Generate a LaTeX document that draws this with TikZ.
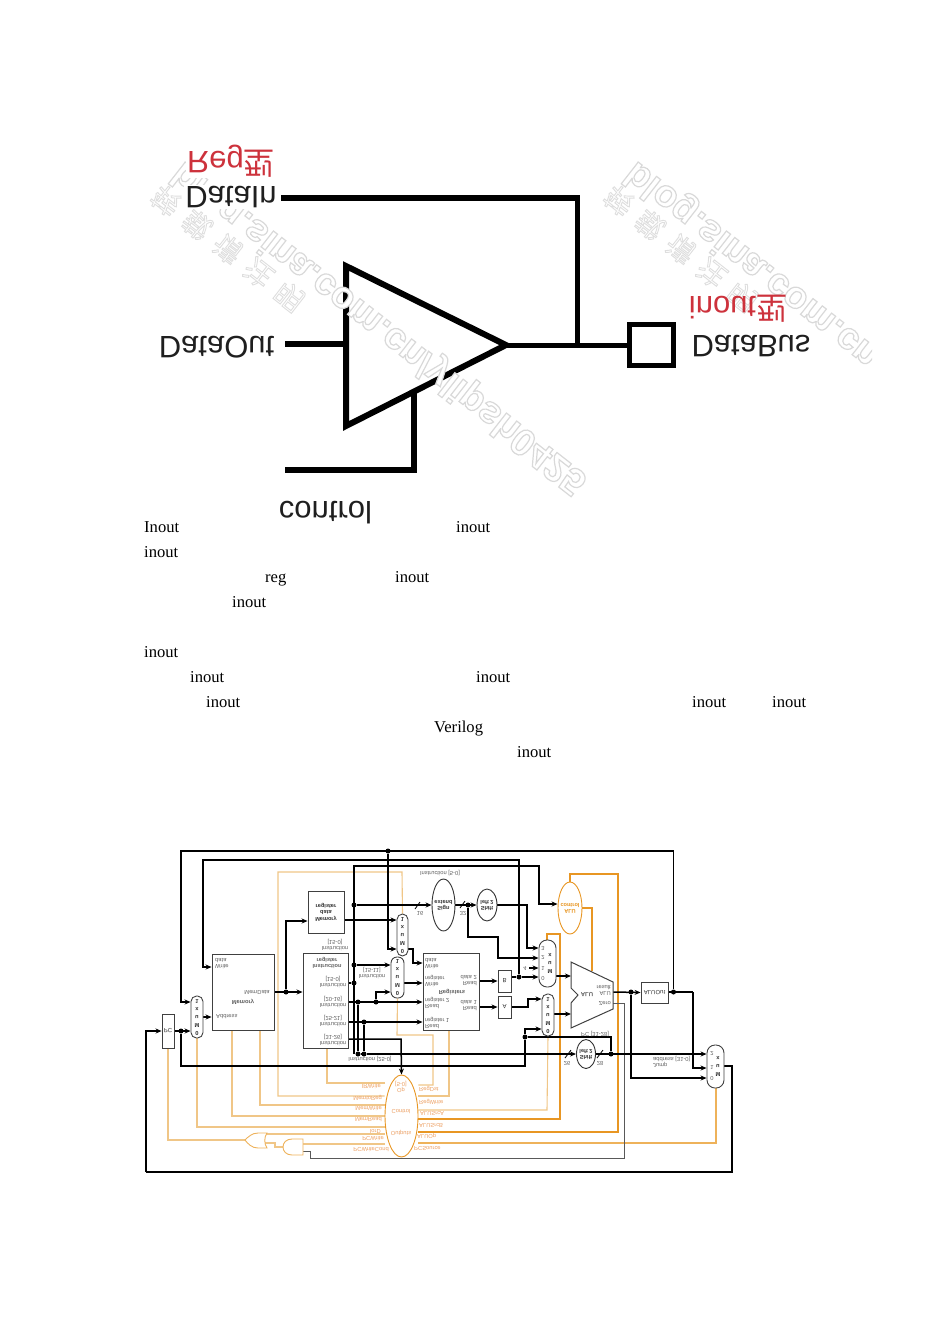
\documentclass[tikz,border=0pt]{standalone}
\usepackage{graphicx}
\usepackage{fontspec}
\setmainfont{Liberation Serif}
\setsansfont{Liberation Sans}
\newfontfamily\cjk{Noto Sans CJK SC}
\usetikzlibrary{arrows.meta,shapes.geometric,backgrounds}
\definecolor{lo}{RGB}{240,198,135}
\definecolor{mo}{RGB}{238,178,90}
\definecolor{so}{RGB}{232,150,35}
\definecolor{ot}{RGB}{236,160,100}
\definecolor{redl}{RGB}{205,50,60}
\newcommand{\fl}[1]{\scalebox{1}[-1]{#1}}
\newcommand{\fs}[2][c]{\scalebox{1}[-1]{\begin{tabular}[c]{@{}#1@{}}#2\end{tabular}}}
\newcommand{\cz}[1]{\makebox[0pt][c]{#1}}
\newcommand{\outl}[1]{\special{pdf:code 2 Tr 1.2 w 0.85 0.85 0.85 RG 1 1 1 rg}#1\special{pdf:code 0 Tr 0 0 0 RG 0 0 0 rg}}
\newcommand{\outc}[1]{\special{pdf:code 2 Tr 0.9 w 0.87 0.87 0.87 RG 1 1 1 rg}#1\special{pdf:code 0 Tr 0 0 0 RG 0 0 0 rg}}
\tikzset{
  thick wire/.style={draw=black,line width=6pt,miter limit=10},
  big/.style={font=\sffamily\fontsize{31}{33}\selectfont,text=black!88,inner sep=0pt},
  redtxt/.style={font=\sffamily\fontsize{31}{33}\selectfont,text=redl,inner sep=0pt},
  body/.style={font=\rmfamily\fontsize{16.6}{18}\selectfont,anchor=base west,inner sep=0pt},
  wm/.style={anchor=west,rotate=-38,inner sep=0pt},
  wml/.style={wm,font=\sffamily\bfseries\fontsize{38}{40}\selectfont},
  wmc/.style={wm,font=\cjk\fontsize{28}{30}\selectfont},
  box/.style={draw=black!75,line width=.9pt,fill=white,rectangle,inner sep=0pt,font=\sffamily\fontsize{6}{6.8}\selectfont,text=black!80},
  mux/.style={box,align=center,font=\sffamily\bfseries\fontsize{5.8}{8}\selectfont,text=black!80},
  oval/.style={draw=black!80,line width=.9pt,fill=white,ellipse,inner sep=0pt,font=\sffamily\bfseries\fontsize{5.6}{6.4}\selectfont,text=black!80},
  lb/.style={inner sep=0pt,font=\sffamily\fontsize{5.8}{6.6}\selectfont,text=black!62},
  olb/.style={inner sep=0pt,font=\sffamily\fontsize{5.8}{6.6}\selectfont,text=ot},
  wir/.style={draw=black,line width=1.5pt},
  wa/.style={wir,-{Stealth[length=6pt,width=5pt]}},
  lw/.style={draw=lo,line width=1.1pt},
  mw/.style={draw=mo,line width=1.3pt},
  sw/.style={draw=so,line width=1.8pt},
  gw/.style={draw=black!65,line width=.9pt},
  dot/.style={circle,fill=black,inner sep=0pt,minimum size=5pt},
}
\pgfdeclarelayer{background}
\begin{document}
\begin{tikzpicture}[x=1pt,y=-1pt]
\useasboundingbox (0,0) rectangle (950,1344);
% ---------- tri-state figure ----------
\coordinate (tl) at (346,266);
\coordinate (tb) at (346,426);
\coordinate (tt) at (506,345);
\node[draw=black,line width=5pt,minimum width=44pt,minimum height=41pt,inner sep=0pt] (pad) at (651.5,345) {};
\coordinate (din) at (281,198);
\coordinate (bend) at (579.5,198);
\coordinate (vt) at (577,195);
\coordinate (jun) at (577,344);
\coordinate (dout) at (285,344);
\coordinate (cin) at (285,470);
\coordinate (cc) at (414,470);
\coordinate (ct) at (414,390);
\draw[thick wire,line join=miter] (tl) -- (tb) -- (tt) -- cycle;
\draw[thick wire] (din) -- (bend);
\draw[draw=black,line width=5pt] (vt) -- (jun);
\draw[thick wire] (dout) -- (tl |- dout);
\draw[thick wire] (cin) -- (cc) -- (ct);
\draw[draw=black,line width=5pt] (tt) -- (pad.west);
% watermarks
\begin{scope}
\clip (145,140) rectangle (872,500);
\node[wml] (wa1) at (177,168) {\fl{\outl{blog.sina.com.cn/ylipsh0425}}};
\node[wmc] (wb1) at (155,192) {\fl{\outc{转\hspace{11pt}载\hspace{11pt}请\hspace{11pt}注\hspace{11pt}明}}};
\node[wml] (wa2) at (630,168) {\fl{\outl{blog.sina.com.cn}}};
\node[wmc] (wb2) at (608,192) {\fl{\outc{转\hspace{11pt}载\hspace{11pt}请\hspace{11pt}注\hspace{11pt}明}}};
\end{scope}
\node[big,fill=white,inner sep=1pt] (ldin) at (231,197) {\fl{DataIn}};
\node[big] (ldout) at (216.5,347.5) {\fl{DataOut}};
\node[big] (lctl) at (325.5,513) {\fl{control}};
\node[big,fill=white,inner sep=1pt] (lbus) at (751,346.5) {\fl{DataBus}};
\node[redtxt,fill=white,inner sep=1pt] (lreg) at (231,161) {\fl{Reg{\cjk 型}}};
\node[redtxt] (lino) at (738,309) {\fl{inout{\cjk 型}}};
% ---------- body words ----------
\node[body] (t1) at (144,532) {Inout};
\node[body] (t2) at (456,532) {inout};
\node[body] (t3) at (144,557) {inout};
\node[body] (t4) at (265,582) {reg};
\node[body] (t5) at (395,582) {inout};
\node[body] (t6) at (232,607) {inout};
\node[body] (t7) at (144,657) {inout};
\node[body] (t8) at (190,682) {inout};
\node[body] (t9) at (476,682) {inout};
\node[body] (t10) at (206,707) {inout};
\node[body] (t11) at (692,707) {inout};
\node[body] (t12) at (772,707) {inout};
\node[body] (t13) at (434,732) {Verilog};
\node[body] (t14) at (517,757) {inout};
% ---------- datapath: blocks ----------
\node[box,minimum width=12pt,minimum height=34pt] (pc) at (168,1031) {\cz{\fl{PC}}};
\node[box,minimum width=62pt,minimum height=76pt] (mem) at (243,992) {};
\node[box,minimum width=45pt,minimum height=95pt] (ir) at (325.5,1000.5) {};
\node[box,minimum width=36pt,minimum height=42pt,font=\sffamily\bfseries\fontsize{5.6}{6.4}\selectfont] (mdr) at (326,912) {\cz{\fs{Memory\\data\\register}}};
\node[box,minimum width=56pt,minimum height=77pt] (regs) at (451,991.5) {};
\node[box,minimum width=13pt,minimum height=22pt] (rb) at (504.5,981) {\cz{\fl{B}}};
\node[box,minimum width=13pt,minimum height=22pt] (ra) at (504.5,1007) {\cz{\fl{A}}};
\node[box,minimum width=27pt,minimum height=21pt] (ao) at (654.5,992.5) {\cz{\fl{ALUOut}}};
\node[mux,rounded corners=5.5pt,minimum width=12pt,minimum height=42pt] (m1) at (197,1017) {\cz{\fs{0\\M\\u\\x\\1}}};
\node[mux,rounded corners=5.5pt,minimum width=11pt,minimum height=42pt] (mt) at (402.5,935) {\cz{\fs{0\\M\\u\\x\\1}}};
\node[mux,rounded corners=6pt,minimum width=13pt,minimum height=41pt] (m2) at (397.5,977.5) {\cz{\fs{0\\M\\u\\x\\1}}};
\node[mux,rounded corners=8pt,minimum width=17pt,minimum height=47pt] (m4) at (547.5,963.5) {\hspace{5pt}\cz{\fs{M\\u\\x}}};
\node[mux,rounded corners=5.5pt,minimum width=12pt,minimum height=42pt] (m3) at (548,1015) {\cz{\fs{0\\M\\u\\x\\1}}};
\node[mux,rounded corners=8pt,minimum width=17pt,minimum height=43pt] (mj) at (715.5,1066.5) {\hspace{5pt}\cz{\fs{M\\u\\x}}};
\node[oval,minimum width=23pt,minimum height=52pt] (sx) at (443.5,905) {\cz{\fs{Sign\\extend}}};
\node[oval,minimum width=20pt,minimum height=32pt] (sl) at (487,905) {\cz{\fs{Shift\\left 2}}};
\node[oval,minimum width=19pt,minimum height=29pt] (sj) at (586,1054) {\cz{\fs{Shift\\left 2}}};
\node[oval,draw=so,text=so,minimum width=24pt,minimum height=52pt] (ac) at (570,908) {\cz{\fs{ALU\\control}}};
\node[oval,draw=so,text=ot,font=\sffamily\fontsize{5.8}{6.6}\selectfont,minimum width=33pt,minimum height=82pt] (ctl) at (401.5,1116) {};
\coordinate (a1) at (571,962);
\coordinate (a2) at (613,982);
\coordinate (a3) at (613,1009);
\coordinate (a4) at (571,1028);
\coordinate (a5) at (571,1003);
\coordinate (a6) at (578,995);
\coordinate (a7) at (571,988);
\filldraw[draw=black!75,line width=1pt,fill=white] (a1) -- (a2) -- (a3) -- (a4) -- (a5) -- (a6) -- (a7) -- cycle;
% gates
\coordinate (org) at (245,1140);
\coordinate (andg) at (283,1147);
\filldraw[draw=mo,line width=.9pt,fill=white] (267,1133) -- (258,1133) .. controls (252,1133) and (248,1137) .. (org) .. controls (248,1144) and (252,1148) .. (258,1148) -- (267,1148) .. controls (264,1144) and (264,1137) .. (267,1133) -- cycle;
\filldraw[draw=mo,line width=.9pt,fill=white] (303,1139) -- (292,1139) .. controls (286,1139) and (283,1143) .. (andg) .. controls (283,1151) and (286,1155) .. (292,1155) -- (303,1155) -- cycle;
% dots
\node[dot] (dtop) at (388,851) {};
\node[dot] (dpc) at (181,1031) {};
\node[dot] (dmdr) at (286,992) {};
\node[dot] (da) at (354,905) {};
\node[dot] (db) at (354,965) {};
\node[dot] (dc) at (354,983) {};
\node[dot] (dd) at (358,1002) {};
\node[dot] (de) at (376,1002) {};
\node[dot] (df) at (364,1022) {};
\node[dot] (dg) at (358,1054) {};
\node[dot] (dh) at (364,1054) {};
\node[dot] (dsx) at (468,905) {};
\node[dot] (dB) at (519,977) {};
\node[dot] (dalu) at (631,992) {};
\node[dot] (dao) at (673.5,992) {};
\node[dot] (dpc2) at (525,1037) {};
\node[dot] (dj) at (611,1054) {};
\begin{pgfonlayer}{background}
% control wires
\draw[lw] (ir.south -| 327,0) -- (327,1083) -- (ctl.west |- 0,1083);
\draw[lw] (mt.north) -- (402,872) -- (278,872) -- (278,1096) -- (ctl.west |- 0,1096);
\draw[lw] (260,1030) -- (260,1105) -- (ctl.west |- 0,1105);
\draw[lw] (232,1030) -- (232,1116) -- (ctl.west |- 0,1116);
\draw[lw] (m1.south) -- (197,1127) -- (ctl.west |- 0,1127);
\draw[lw] (pc.south) -- (168,1140) -- (org);
\draw[lw] (267,1134) -- (ctl.west |- 0,1134);
\draw[lw] (303,1144) -- (ctl.west |- 0,1144);
\draw[lw] (283,1147) -- (275,1147) -- (275,1143) -- (265,1143);
\draw[lw] (m2.south) -- (397,1035) -- (433,1035) -- (433,1085) -- (ctl.east |- 0,1085);
\draw[lw] (449,1030) -- (449,1096) -- (ctl.east |- 0,1096);
\draw[lw] (m3.south) -- (547,1110) -- (ctl.east |- 0,1110);
\draw[sw] (ctl.east |- 0,1119) -- (560,1119) -- (560,934) -- (547,934) -- (m4.north -| 547,0);
\draw[sw] (ctl.east |- 0,1132) -- (618,1132) -- (618,874) -- (570,874) -- (ac.north);
\draw[sw] (ac.east) -- (592,908) -- (592,971);
\draw[mw] (ctl.east |- 0,1143) -- (716,1143) -- (mj.south -| 716,0);
\draw[gw] (613,1003) -- (624,1003) -- (624,1158) -- (310,1158) -- (310,1151) -- (303,1151);
% data wires
\draw[wa] (dao) -- (673.5,851) -- (181,851) -- (181,1002) -- (m1.west |- 0,1002);
\draw[wa] (dtop) -- (388,949) -- (mt.west |- 0,949);
\draw[wa] (dB) -- (519,860) -- (203,860) -- (203,967) -- (mem.west |- 0,967);
\draw[wa] (354,1054) -- (354,866) -- (539,866) -- (539,904) -- (ac.west |- 0,904);
\draw[wa] (146,1172) -- (146,1031) -- (pc.west);
\draw[wir] (mj.east |- 0,1066) -- (732,1066) -- (732,1172) -- (146,1172);
\draw[wa] (pc.east) -- (m1.west |- pc.east);
\draw[wir] (dpc) -- (181,1066) -- (525,1066) -- (dpc2);
\draw[wa] (dpc2) -- (525,1029) -- (m3.west |- 0,1029);
\draw[wir] (dpc2) -- (611,1037) -- (dj);
\draw[wa] (m1.east) -- (mem.west |- m1.east);
\draw[wa] (mem.east |- dmdr) -- (ir.west |- dmdr);
\draw[wa] (dmdr) -- (286,921) -- (mdr.west |- 0,921);
\draw[wa] (mdr.east |- 0,920) -- (mt.west |- 0,920);
\draw[wa] (mt.east |- 0,949) -- (413,949) -- (413,963) -- (regs.west |- 0,963);
\draw[wa] (db) -- (m2.west |- db);
\draw[wa] (de) -- (376,992) -- (m2.west |- 0,992);
\draw[wa] (m2.east |- dc) -- (regs.west |- dc);
\draw[wa] (ir.east |- dd) -- (regs.west |- dd);
\draw[wa] (ir.east |- df) -- (regs.west |- df);
\draw[wir] (ir.east |- dc) -- (dc);
\draw[wa] (ir.east |- 0,1039) -- (401,1039) -- (ctl.north);
\draw[wir] (dd) -- (dg);
\draw[wir] (df) -- (dh);
\draw[wa] (da) -- (sx.west);
\draw[wa] (sx.east) -- (sl.west);
\draw[wa] (sl.east) -- (527,905) -- (527,948) -- (m4.west |- 0,948);
\draw[wa] (dsx) -- (468,937) -- (498,937) -- (498,958) -- (m4.west |- 0,958);
\coordinate (four) at (529,968);
\draw[wa] (four) -- (m4.west |- four);
\draw[wa] (dB) -- (m4.west |- dB);
\draw[wir] (rb.east |- dB) -- (dB);
\draw[wa] (m4.east |- 0,976) -- (571,976);
\draw[wa] (regs.east |- 0,981) -- (rb.west);
\draw[wa] (regs.east |- 0,1007) -- (ra.west);
\draw[wa] (ra.east) -- (528,1007) -- (528,999) -- (m3.west |- 0,999);
\draw[wa] (m3.east |- 0,1014) -- (571,1014);
\draw[wa] (613,992) -- (ao.west);
\draw[wir] (ao.east |- dao) -- (693,992);
\draw[wa] (693,992) -- (693,1068) -- (mj.west |- 0,1068);
\draw[wa] (dalu) -- (631,1078) -- (mj.west |- 0,1078);
\draw[wir] (dg) -- (dh);
\draw[wa] (dh) -- (sj.west);
\draw[wa] (sj.east) -- (mj.west |- sj.east);
% bus slashes
\draw[wir,line width=.8pt] (415,909) -- (420,902);
\draw[wir,line width=.8pt] (460,908) -- (465,901);
\draw[wir,line width=.8pt] (565,1058) -- (571,1050);
\draw[wir,line width=.8pt] (597,1058) -- (603,1050);
\end{pgfonlayer}
% ---------- datapath: labels ----------
\node[lb,anchor=west] (l1) at (215,963) {\fs[l]{Write\\data}};
\node[lb,anchor=west] (l2) at (216,1017) {\fl{Address}};
\node[lb,font=\sffamily\bfseries\fontsize{5.8}{6.6}\selectfont] (l3) at (243,1002) {\fl{Memory}};
\node[lb] (l4) at (257,992) {\fl{MemData}};
\node[lb] (l5) at (335,945) {\fs{Instruction\\{[15-0]}}};
\node[lb,font=\sffamily\bfseries\fontsize{5.6}{6.4}\selectfont] (l6) at (327,963) {\fs{Instruction\\register}};
\node[lb] (l7) at (333,982) {\fs{Instruction\\{[15-0]}}};
\node[lb] (l8) at (333,1002) {\fs{Instruction\\{[20-16]}}};
\node[lb] (l9) at (333,1021) {\fs{Instruction\\{[25-21]}}};
\node[lb] (l10) at (333,1040) {\fs{Instruction\\{[31-26]}}};
\node[lb] (l11) at (372,973) {\fs{Instruction\\{[15-11]}}};
\node[lb] (l12) at (440,873) {\fl{Instruction [5-0]}};
\node[lb] (l13) at (420,913) {\fl{16}};
\node[lb] (l14) at (463,913) {\fl{32}};
\node[lb] (l15) at (370,1059) {\fl{Instruction [25-0]}};
\node[lb,anchor=west] (l16) at (425,963) {\fs[l]{Write\\data}};
\node[lb,anchor=west] (l17) at (425,981) {\fs[l]{Write\\register}};
\node[lb,anchor=west] (l18) at (425,1003) {\fs[l]{Read\\register 2}};
\node[lb,anchor=west] (l19) at (425,1023) {\fs[l]{Read\\register 1}};
\node[lb,font=\sffamily\bfseries\fontsize{5.8}{6.6}\selectfont] (l20) at (452,992) {\fl{Registers}};
\node[lb,anchor=east] (l21) at (477,980) {\fs[r]{Read\\data 2}};
\node[lb,anchor=east] (l22) at (477,1005) {\fs[r]{Read\\data 1}};
\node[lb] (l23) at (525,968) {\fl{4}};
\node[lb] (l24) at (543,948) {\fl{3}};
\node[lb] (l25) at (543,958) {\fl{2}};
\node[lb] (l26) at (543,968) {\fl{1}};
\node[lb] (l27) at (543,978) {\fl{0}};
\node[lb,font=\sffamily\bfseries\fontsize{6}{6.8}\selectfont] (l28) at (587,995) {\fl{ALU}};
\node[lb,anchor=east] (l29) at (611,990) {\fs[r]{ALU\\result}};
\node[lb,anchor=east] (l30) at (611,1003) {\fl{Zero}};
\node[lb] (l31) at (595,1034) {\fl{PC [31-28]}};
\node[lb] (l32) at (567,1063) {\fl{26}};
\node[lb] (l33) at (600,1063) {\fl{28}};
\node[lb,anchor=west] (l34) at (653,1062) {\fs[l]{Jump\\address [31-0]}};
\node[lb] (l35) at (712,1054) {\fl{2}};
\node[lb] (l36) at (712,1067) {\fl{1}};
\node[lb] (l37) at (712,1078) {\fl{0}};
% control labels
\node[olb] (c0) at (401,1087) {\fs{Op\\{[5-0]}}};
\node[olb] (c1) at (401,1112) {\fl{Control}};
\node[olb] (c2) at (401,1133) {\fl{Outputs}};
\node[olb,anchor=east] (c3) at (381,1087) {\fl{IRWrite}};
\node[olb,anchor=east] (c4) at (382,1098) {\fl{MemtoReg}};
\node[olb,anchor=east] (c5) at (382,1109) {\fl{MemWrite}};
\node[olb,anchor=east] (c6) at (382,1120) {\fl{MemRead}};
\node[olb,anchor=east] (c7) at (381,1131) {\fl{IorD}};
\node[olb,anchor=east] (c8) at (384,1139) {\fl{PCWrite}};
\node[olb,anchor=east] (c9) at (389,1150) {\fl{PCWriteCond}};
\node[olb,anchor=west] (c10) at (419,1089) {\fl{RegDst}};
\node[olb,anchor=west] (c11) at (419,1102) {\fl{RegWrite}};
\node[olb,anchor=west] (c12) at (420,1113) {\fl{ALUSrcA}};
\node[olb,anchor=west] (c13) at (419,1125) {\fl{ALUSrcB}};
\node[olb,anchor=west] (c14) at (417,1136) {\fl{ALUOp}};
\node[olb,anchor=west] (c15) at (414,1148) {\fl{PCSource}};
\end{tikzpicture}
\end{document}
